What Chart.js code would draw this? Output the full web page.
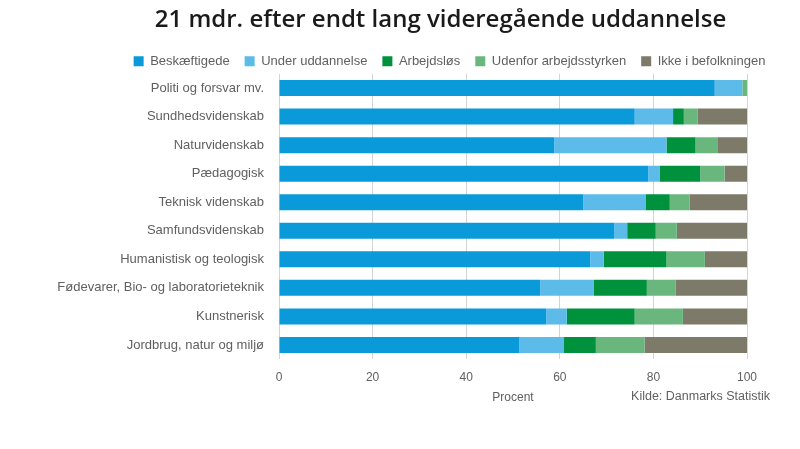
<!DOCTYPE html>
<html>
<head>
<meta charset="utf-8">
<script src="https://cdn.jsdelivr.net/npm/chart.js@4/dist/chart.umd.min.js"></script>
<style>
  html, body { margin: 0; padding: 0; background: #fff; }
  #wrap { width: 800px; height: 449px; }
</style>
</head>
<body>
<div id="wrap"><canvas id="myBarChart"></canvas></div>
<script>
const categories = [
    'Politi og forsvar mv.',
    'Sundhedsvidenskab',
    'Naturvidenskab',
    'Pædagogisk',
    'Teknisk videnskab',
    'Samfundsvidenskab',
    'Humanistisk og teologisk',
    'Fødevarer, Bio- og laboratorieteknik',
    'Kunstnerisk',
    'Jordbrug, natur og miljø'
];
const beskaeftigede = [93.1, 76.0, 58.8, 78.9, 65.0, 71.6, 66.5, 55.8, 57.1, 51.3];
const underUddannelse = [5.9, 8.2, 24.0, 2.4, 13.3, 2.8, 2.9, 11.5, 4.4, 9.6];
const arbejdsloes = [0, 2.3, 6.2, 8.7, 5.2, 6.1, 13.4, 11.3, 14.5, 6.8];
const udenfor = [1.0, 2.9, 4.8, 5.2, 4.2, 4.5, 8.2, 6.1, 10.3, 10.4];
const ikkeBefolkningen = [0, 10.6, 6.2, 4.8, 12.3, 15.0, 9.0, 15.3, 13.7, 21.9];
const xTicks = [0, 20, 40, 60, 80, 100];

const labelColor = '#606060';
const tickFont = { family: 'Liberation Sans, Arial, sans-serif', size: 12 };
const catFont = { family: 'Liberation Sans, Arial, sans-serif', size: 13 };

// title/legend sit a bit right of the plot centre in the original,
// legend has less room under it; source note goes next to the axis title
const tweaks = {
    id: 'tweaks',
    beforeLayout(chart) {
        const lg = chart.legend;
        if (lg && !lg._tight) {
            const fit = lg.fit.bind(lg);
            lg.fit = function () { fit(); this.height -= 4; };
            lg._tight = true;
        }
    },
    afterLayout(chart) {
        const t = chart.titleBlock;
        if (t) { t.left += 47; t.right += 47; }
        const lg = chart.legend;
        if (lg) { lg.left += 56; lg.right += 56; }
    },
    afterDraw(chart) {
        const c = chart.ctx;
        c.save();
        c.font = '12.5px Liberation Sans, Arial, sans-serif';
        c.fillStyle = labelColor;
        c.textAlign = 'right';
        c.textBaseline = 'middle';
        c.fillText('Kilde: Danmarks Statistik', chart.scales.x.right + 23, 397);
        c.restore();
    }
};

const ctx = document.getElementById('myBarChart').getContext('2d');
const myBarChart = new Chart(ctx, {
    type: 'bar',
    data: {
        labels: categories,
        datasets: [
            { label: 'Beskæftigede', data: beskaeftigede, backgroundColor: '#0a9ad9' },
            { label: 'Under uddannelse', data: underUddannelse, backgroundColor: '#5cbbe9' },
            { label: 'Arbejdsløs', data: arbejdsloes, backgroundColor: '#00913d' },
            { label: 'Udenfor arbejdsstyrken', data: udenfor, backgroundColor: '#6ab77d' },
            { label: 'Ikke i befolkningen', data: ikkeBefolkningen, backgroundColor: '#7d7a69' }
        ]
    },
    options: {
        indexAxis: 'y',
        responsive: true,
        maintainAspectRatio: false,
        animation: false,
        barPercentage: 0.56,
        categoryPercentage: 1,
        layout: { padding: { left: 40, right: 53, top: 0, bottom: 40 } },
        plugins: {
            title: {
                display: true,
                text: '21 mdr. efter endt lang videregående uddannelse',
                color: '#1a1a1a',
                font: { family: 'Open Sans, sans-serif', size: 24, weight: '600' },
                padding: { top: 6, bottom: 5 }
            },
            legend: {
                labels: {
                    boxWidth: 10,
                    boxHeight: 10,
                    padding: 15,
                    color: labelColor,
                    font: catFont
                }
            },
            tooltip: { enabled: false }
        },
        scales: {
            x: {
                stacked: true,
                min: 0,
                max: 100,
                afterBuildTicks: (scale) => { scale.ticks = xTicks.map(v => ({ value: v })); },
                grid: { color: '#d4d4d4', drawTicks: false },
                border: { display: false },
                ticks: { color: labelColor, font: tickFont, padding: 11 },
                title: { display: true, text: 'Procent', color: labelColor, font: tickFont, padding: { top: -5, bottom: 4 } }
            },
            y: {
                stacked: true,
                afterFit: (scale) => { scale.width = 239; },
                grid: { display: false },
                border: { display: false },
                ticks: { color: labelColor, font: catFont, padding: 7, autoSkip: false }
            }
        }
    },
    plugins: [tweaks]
});
</script>
</body>
</html>
